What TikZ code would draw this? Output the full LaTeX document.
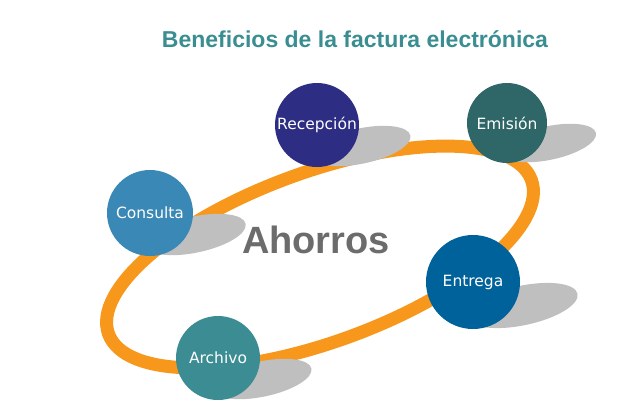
\documentclass[tikz,border=0pt]{standalone}
\usepackage{fontspec}
\setmainfont{Liberation Sans}
\newfontfamily\dejavu{DejaVu Sans}
\definecolor{ringc}{HTML}{F7981D}
\definecolor{shad}{HTML}{BFBFBF}
\definecolor{titlec}{HTML}{3A8E92}
\begin{document}
\begin{tikzpicture}[x=1pt,y=-1pt,
  ball/.style={circle,minimum size=#1,inner sep=0pt,text=white,font=\dejavu\fontsize{15.5}{18}\selectfont},
  shadow/.style={fill=shad}]
\useasboundingbox (0,0) rectangle (640,418);
\node (title) at (355,39) {\bfseries\color{titlec}\fontsize{23}{26}\selectfont Beneficios de la factura electrónica};
\draw[ringc,line width=13pt] (320,257) ellipse[x radius=225,y radius=85,rotate=20];
% shadows
\foreach \cx/\cy/\r in {317/125/42,507/123/40,150/213/43,473/282/47,218/358/42}{
  \fill[shadow] (\cx+\r*1.05,\cy+\r*0.5) ellipse[x radius=\r*1.2,y radius=\r*0.42,rotate=12];
}
\node[ball=84pt,fill={rgb,255:red,46;green,45;blue,132}] (rec) at (317,125) {Recepción};
\node[ball=80pt,fill={rgb,255:red,47;green,102;blue,104}] (emi) at (507,123) {Emisión};
\node[ball=86pt,fill={rgb,255:red,58;green,136;blue,181}] (con) at (150,213) {Consulta};
\node[ball=94pt,fill={rgb,255:red,0;green,98;blue,154}] (ent) at (473,282) {Entrega};
\node[ball=84pt,fill={rgb,255:red,59;green,140;blue,147}] (arc) at (218,358) {Archivo};
\node[text=gray!85!black] (aho) at (316,240) {\bfseries\fontsize{38}{40}\selectfont Ahorros};
\end{tikzpicture}
\end{document}
